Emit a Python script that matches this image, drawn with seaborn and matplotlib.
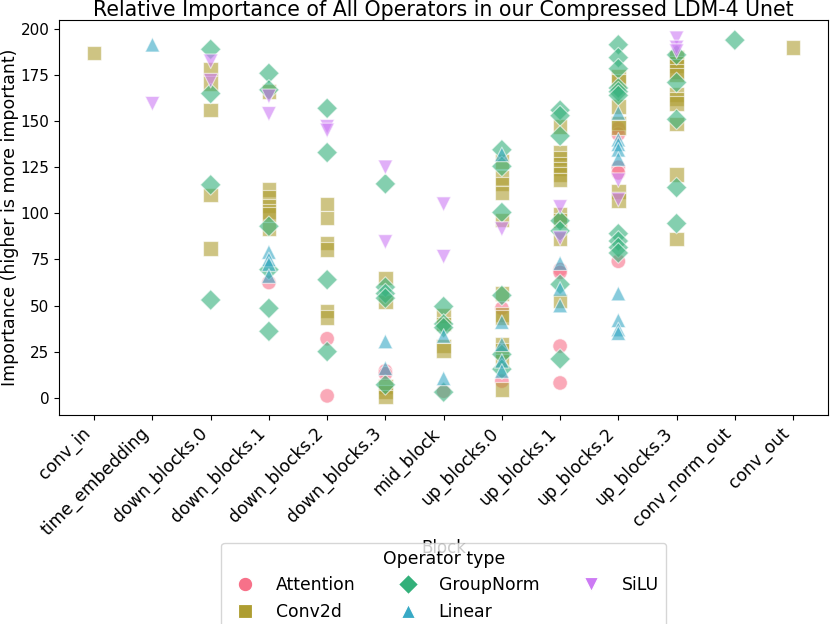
import numpy as np
import pandas as pd
import matplotlib
matplotlib.use("Agg")
import matplotlib.pyplot as plt
import seaborn as sns

blocks = ["conv_in", "time_embedding", "down_blocks.0", "down_blocks.1", "down_blocks.2",
          "down_blocks.3", "mid_block", "up_blocks.0", "up_blocks.1", "up_blocks.2",
          "up_blocks.3", "conv_norm_out", "conv_out"]
op_types = ["Attention", "Conv2d", "GroupNorm", "Linear", "SiLU"]

attention = {
    "down_blocks.1": [62.5],
    "down_blocks.2": [32, 1],
    "down_blocks.3": [14.5, 13],
    "mid_block": [3.5],
    "up_blocks.0": [48.5, 9],
    "up_blocks.1": [69.5, 68, 28, 8],
    "up_blocks.2": [146, 143, 125, 122, 74],
}
conv2d = {
    "conv_in": [187],
    "down_blocks.0": [178, 170.5, 156, 110, 81],
    "down_blocks.1": [166, 113, 108.5, 104, 101, 99.5, 91.5],
    "down_blocks.2": [105, 97.5, 84, 80.5, 47, 43.5],
    "down_blocks.3": [65, 52, 6, 3, 0.5],
    "mid_block": [44.5, 40, 28, 25.5],
    "up_blocks.0": [128, 119.5, 116, 111, 96.5, 56.5, 45, 43.5, 29, 25.5, 20, 4.5],
    "up_blocks.1": [147, 133, 130, 126.5, 124, 121, 118, 99.5, 96, 86, 52.5],
    "up_blocks.2": [174.5, 171.5, 158, 149, 146.5, 112, 107],
    "up_blocks.3": [184.5, 181.5, 180, 177, 175, 164.5, 162, 159.5, 148.5, 121, 86],
    "conv_out": [190],
}
groupnorm = {
    "down_blocks.0": [189, 165, 115.5, 53],
    "down_blocks.1": [176, 167, 93, 69.5, 48.5, 36],
    "down_blocks.2": [157, 133, 64, 25],
    "down_blocks.3": [116, 60, 56.5, 54, 7],
    "mid_block": [49.5, 40, 38, 3],
    "up_blocks.0": [134.5, 125.5, 100.5, 55.5, 23.5, 15.5],
    "up_blocks.1": [156, 153, 142, 96, 90.5, 61.5, 21],
    "up_blocks.2": [191.5, 184.5, 178.5, 168, 166, 164, 89, 85, 81.5, 78.5],
    "up_blocks.3": [186, 171, 151, 114, 94.5],
    "conv_norm_out": [194],
}
linear = {
    "time_embedding": [191.5],
    "down_blocks.1": [79, 75, 72.5, 66],
    "down_blocks.3": [30.5, 16],
    "mid_block": [33.5, 10.5],
    "up_blocks.0": [132, 41, 29, 20, 14.5],
    "up_blocks.1": [73, 59, 50],
    "up_blocks.2": [154.5, 140, 137.5, 134.5, 129.5, 56.5, 42, 37, 35],
}
silu = {
    "time_embedding": [159.5],
    "down_blocks.0": [182.5, 172],
    "down_blocks.1": [163.5, 154],
    "down_blocks.2": [147, 145],
    "down_blocks.3": [125, 84.5],
    "mid_block": [105, 76.5],
    "up_blocks.0": [91.5],
    "up_blocks.1": [103.5, 86.5],
    "up_blocks.2": [118, 107.5],
    "up_blocks.3": [195, 190, 188],
}

rows = []
for name, table in zip(op_types, [attention, conv2d, groupnorm, linear, silu]):
    for blk, vals in table.items():
        for v in vals:
            rows.append({"Block": blk, "Importance": v, "Operator type": name})
df = pd.DataFrame(rows)
df["Block"] = pd.Categorical(df["Block"], categories=blocks, ordered=True)
df["xpos"] = df["Block"].cat.codes

fig = plt.figure(figsize=(8.3, 6.24), dpi=100)
ax = fig.add_axes([0.0714, 0.3354, 0.9262, 0.632])
palette = dict(zip(op_types, sns.color_palette("husl", 5)))
markers = dict(zip(op_types, ["o", "s", "D", "^", "v"]))
sns.scatterplot(data=df, x="xpos", y="Importance", hue="Operator type", style="Operator type",
                hue_order=op_types, style_order=op_types, palette=palette, markers=markers,
                s=110, alpha=0.6, ax=ax)
ax.set_xticks(range(len(blocks)))
ax.set_xticklabels(blocks, rotation=45, ha="right", fontsize=12.3)
ax.tick_params(axis="y", labelsize=11)
ax.set_xlabel("Block", fontsize=12, labelpad=0)
ax.set_ylabel("Importance (higher is more important)", fontsize=12.5, labelpad=1.5)
ax.set_title("Relative Importance of All Operators in our Compressed LDM-4 Unet", fontsize=14.8, pad=3)
sns.move_legend(ax, "upper center", bbox_to_anchor=(0.5, -0.303), ncol=3,
                title="Operator type", fontsize=12.4, title_fontsize=12.4, frameon=True)
for h in ax.get_legend().legend_handles:
    h.set_alpha(1)
fig.savefig("out.png", dpi=100)
